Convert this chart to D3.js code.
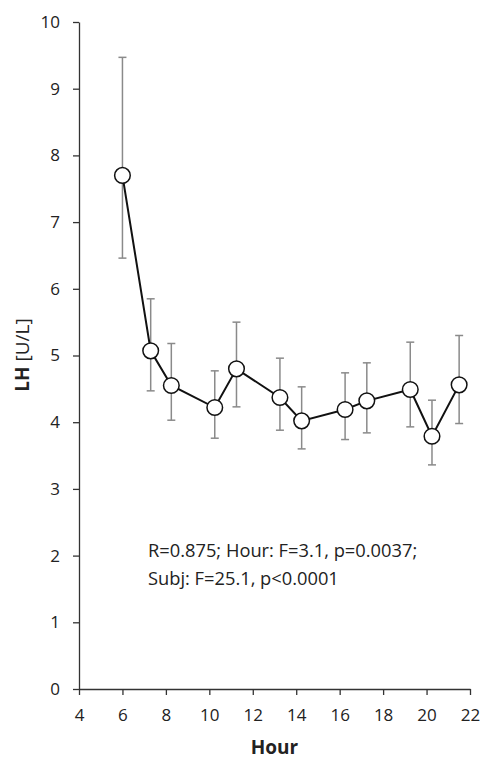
<!DOCTYPE html>
<html>
<head>
<meta charset="utf-8">
<script src="https://cdn.jsdelivr.net/npm/d3@7"></script>
<style>
  body { margin: 0; background: #fff; }
  svg text { font-family: "Open Sans", "Noto Sans", sans-serif; fill: #222; }
  .axis path, .axis line { stroke: #333; stroke-width: 1.3; }
</style>
</head>
<body>
<div id="chart"></div>
<script>
// data
var hours = [6, 7.3, 8.25, 10.25, 11.25, 13.25, 14.25, 16.25, 17.25, 19.25, 20.25, 21.5];
var lhMean = [7.70, 5.07, 4.55, 4.22, 4.80, 4.37, 4.02, 4.19, 4.32, 4.49, 3.79, 4.56];
var lhUpper = [9.47, 5.85, 5.18, 4.77, 5.50, 4.96, 4.53, 4.74, 4.89, 5.20, 4.33, 5.30];
var lhLower = [6.46, 4.47, 4.03, 3.76, 4.23, 3.88, 3.60, 3.74, 3.84, 3.93, 3.36, 3.98];
var xTicks = [4, 6, 8, 10, 12, 14, 16, 18, 20, 22];
var yTicks = [0, 1, 2, 3, 4, 5, 6, 7, 8, 9, 10];
var statLines = ["R=0.875; Hour: F=3.1, p=0.0037;", "Subj: F=25.1, p<0.0001"];

var width = 483, height = 760;
var margin = { top: 22, right: 13, bottom: 71, left: 79 };

var svg = d3.select("#chart")
    .append("svg")
    .attr("width", width)
    .attr("height", height);

var xScale = d3.scaleLinear().domain([4, 22]).range([margin.left, width - margin.right]);
var yScale = d3.scaleLinear().domain([0, 10]).range([height - margin.bottom, margin.top]);

var points = hours.map(function (h, i) {
    return { hour: h, mean: lhMean[i], hi: lhUpper[i], lo: lhLower[i] };
});

// axes
svg.append("g")
    .attr("class", "axis")
    .attr("transform", "translate(0," + yScale(0) + ")")
    .call(d3.axisBottom(xScale).tickValues(xTicks).tickSize(6).tickSizeOuter(0).tickPadding(14))
    .selectAll("text")
    .style("font-size", "17px");

svg.append("g")
    .attr("class", "axis")
    .attr("transform", "translate(" + xScale(4) + ",0)")
    .call(d3.axisLeft(yScale).tickValues(yTicks).tickSize(6).tickSizeOuter(0).tickPadding(13))
    .selectAll("text")
    .style("font-size", "17px");

svg.selectAll(".axis text").style("fill", "#222");

// axis titles
svg.append("text")
    .attr("x", (xScale(4) + xScale(22)) / 2)
    .attr("y", 754)
    .attr("text-anchor", "middle")
    .style("font-size", "19px")
    .style("font-weight", "bold")
    .text("Hour");

var ylab = svg.append("text")
    .attr("transform", "translate(29," + 355 + ")rotate(-90)")
    .attr("text-anchor", "middle")
    .style("font-size", "19px");
ylab.append("tspan").style("font-weight", "bold").text("LH");
ylab.append("tspan").text(" [U/L]");

// error bars
var bars = svg.selectAll(".err")
    .data(points)
    .enter().append("g")
    .attr("class", "err")
    .style("stroke", "#8a8a8a")
    .style("stroke-width", 1.5);
bars.append("line")
    .attr("x1", function (d) { return xScale(d.hour); })
    .attr("x2", function (d) { return xScale(d.hour); })
    .attr("y1", function (d) { return yScale(d.hi); })
    .attr("y2", function (d) { return yScale(d.lo); });
bars.append("line")
    .attr("x1", function (d) { return xScale(d.hour) - 4; })
    .attr("x2", function (d) { return xScale(d.hour) + 4; })
    .attr("y1", function (d) { return yScale(d.hi); })
    .attr("y2", function (d) { return yScale(d.hi); });
bars.append("line")
    .attr("x1", function (d) { return xScale(d.hour) - 4; })
    .attr("x2", function (d) { return xScale(d.hour) + 4; })
    .attr("y1", function (d) { return yScale(d.lo); })
    .attr("y2", function (d) { return yScale(d.lo); });

// line
var line = d3.line()
    .x(function (d) { return xScale(d.hour); })
    .y(function (d) { return yScale(d.mean); });

svg.append("path")
    .datum(points)
    .attr("fill", "none")
    .attr("stroke", "#111")
    .attr("stroke-width", 2)
    .attr("d", line);

svg.selectAll(".dot")
    .data(points)
    .enter().append("circle")
    .attr("class", "dot")
    .attr("cx", function (d) { return xScale(d.hour); })
    .attr("cy", function (d) { return yScale(d.mean); })
    .attr("r", 7.8)
    .style("fill", "#fff")
    .style("stroke", "#111")
    .style("stroke-width", 1.5);

// stats note
svg.selectAll(".stat")
    .data(statLines)
    .enter().append("text")
    .attr("class", "stat")
    .attr("x", 148)
    .attr("y", function (d, i) { return 557 + i * 28; })
    .style("font-size", "18.3px")
    .text(function (d) { return d; });
</script>
</body>
</html>
